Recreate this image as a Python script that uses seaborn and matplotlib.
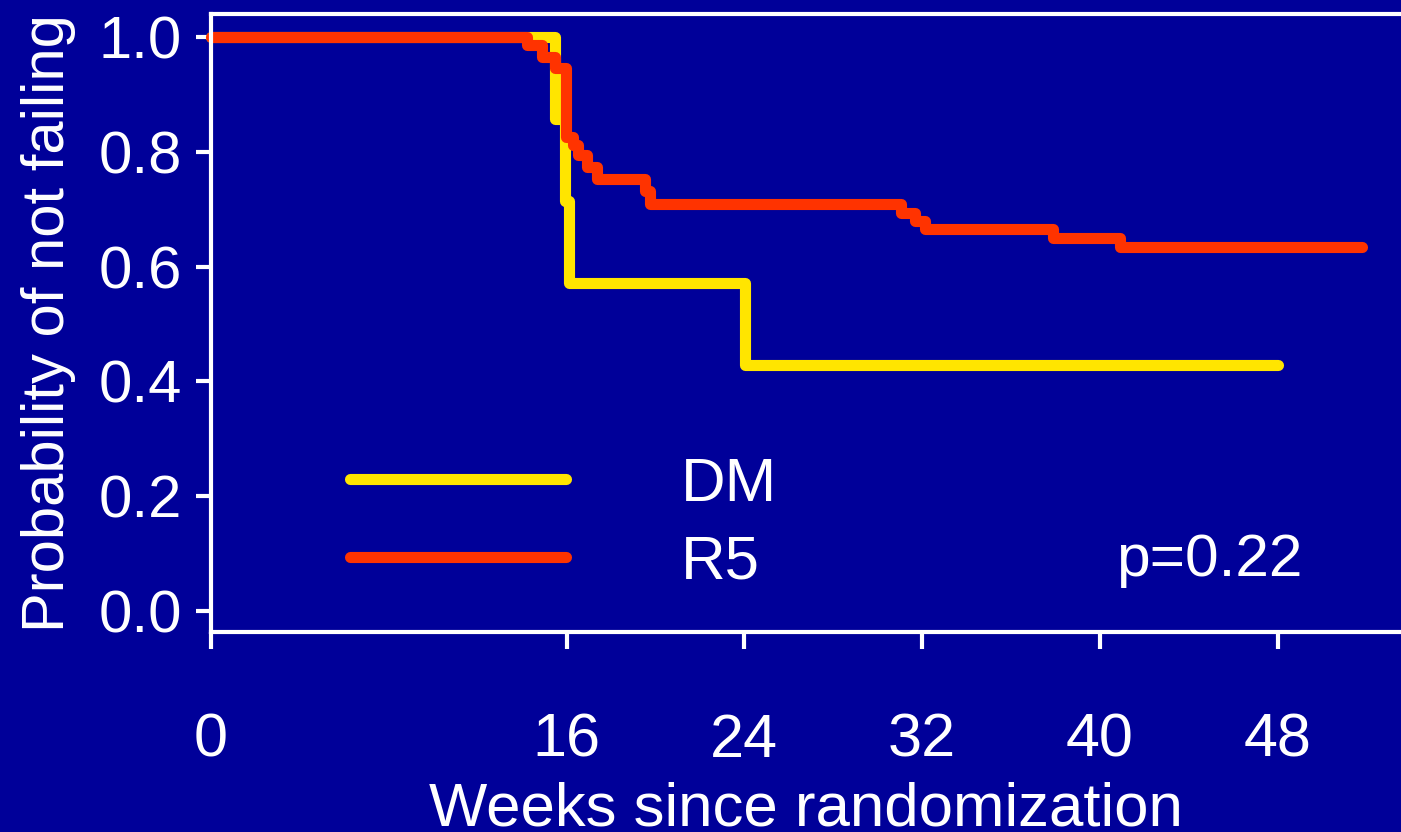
import numpy as np
import pandas as pd
import matplotlib
matplotlib.use("Agg")
import matplotlib.pyplot as plt
import seaborn as sns

# ---- data ----
dm_weeks = [0.0, 15.5, 15.95, 16.1, 24.05, 48.0]
dm_surv = [1.0, 0.857, 0.714, 0.571, 0.429, 0.429]

r5_weeks = [0.0, 14.22, 14.9, 15.48, 15.98, 16.3, 16.5, 16.92, 17.37, 19.53,
            19.76, 31.05, 31.68, 32.13, 37.89, 40.9, 51.8]
r5_surv = [1.0, 0.986, 0.966, 0.946, 0.826, 0.812, 0.795, 0.773, 0.752, 0.731,
           0.709, 0.693, 0.679, 0.665, 0.650, 0.634, 0.634]

arms = ["DM", "R5"]
x_ticks = [0, 16, 24, 32, 40, 48]
y_ticks = [0.0, 0.2, 0.4, 0.6, 0.8, 1.0]
y_tick_labels = ["0.0", "0.2", "0.4", "0.6", "0.8", "1.0"]
p_text = "p=0.22"

BG = "#000099"
YEL = "#FFE500"
RED = "#FF3300"
WHITE = "#FFFFFF"

df = pd.concat([
    pd.DataFrame({"week": dm_weeks, "surv": dm_surv, "arm": arms[0]}),
    pd.DataFrame({"week": r5_weeks, "surv": r5_surv, "arm": arms[1]}),
], ignore_index=True)

sns.set_style("ticks")
plt.rcParams["font.family"] = ["Liberation Sans", "DejaVu Sans"]

W, H = 1401, 832
fig = plt.figure(figsize=(W / 100, H / 100), dpi=100, facecolor=BG)
ax = fig.add_axes([211 / W, 1 - 632 / H, (W - 211) / W, (632 - 14) / H])
ax.set_facecolor(BG)

sns.lineplot(data=df, x="week", y="surv", hue="arm", hue_order=arms,
             palette={arms[0]: YEL, arms[1]: RED}, estimator=None, sort=False,
             drawstyle="steps-post", linewidth=8, solid_capstyle="round",
             solid_joinstyle="round", ax=ax, legend=True, clip_on=False)

# axes limits
ax.set_xlim(0, (W - 211) / 22.22)
ax.set_ylim(-21 / 574, 1 + 23 / 574)

# spines
for s in ["left", "top", "bottom"]:
    ax.spines[s].set_color(WHITE)
    ax.spines[s].set_linewidth(3)
ax.spines["right"].set_visible(False)

ax.set_xticks(x_ticks)
ax.set_xticklabels([str(t) for t in x_ticks])
ax.set_yticks(y_ticks)
ax.set_yticklabels(y_tick_labels)
ax.tick_params(axis="x", colors=WHITE, labelsize=44, length=12, width=3, pad=46)
ax.tick_params(axis="y", colors=WHITE, labelsize=43, length=11, width=3, pad=10)

ax.set_xlabel("Weeks since randomization", color=WHITE, fontsize=44.5, labelpad=8.5)
ax.set_ylabel("Probability of not failing", color=WHITE, fontsize=43, labelpad=16)

# legend
h, l = ax.get_legend_handles_labels()
leg = ax.legend(h, l, loc="upper left", bbox_to_anchor=(350 / W, 1 - 457 / H),
                bbox_transform=fig.transFigure, frameon=False, fontsize=44.5,
                handlelength=3.5, handletextpad=1.85, labelspacing=0.33,
                borderpad=0, borderaxespad=0)
for t in leg.get_texts():
    t.set_color(WHITE)

ax.text(40.75, 35 / 574, p_text, color=WHITE, fontsize=43.5, ha="left", va="baseline")

fig.savefig("out.png", dpi=100, facecolor=BG)
